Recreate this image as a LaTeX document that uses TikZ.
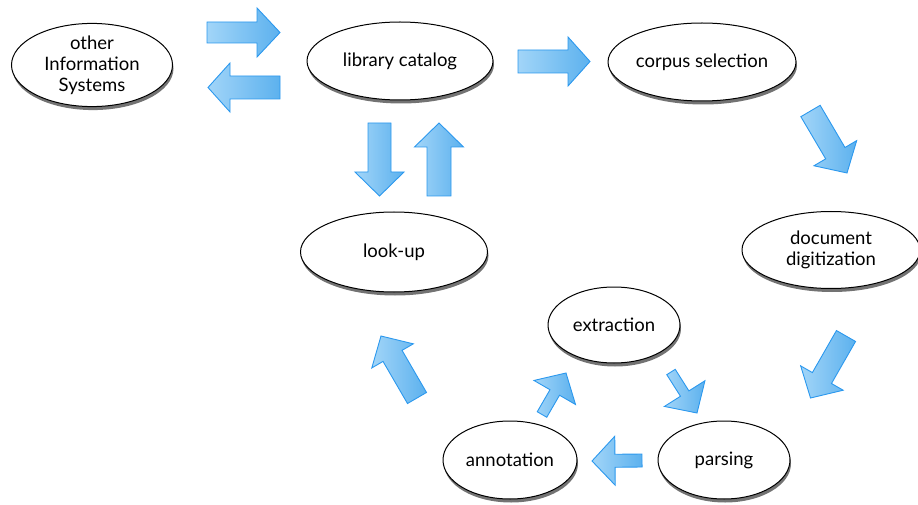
\documentclass[tikz,border=0pt]{standalone}
\usepackage{fontspec}
\setmainfont{Lato}
\usetikzlibrary{shapes.geometric,shadows,calc}
\definecolor{arrlight}{HTML}{A2D5F8}
\definecolor{arrdark}{HTML}{5CB1EE}
\definecolor{arredge}{HTML}{2B98EE}
\tikzset{
  oval/.style={ellipse,draw=black,line width=1pt,fill=white,inner sep=0pt,align=center,
    font=\fontsize{18.5}{21}\selectfont,
    drop shadow={shadow xshift=1pt,shadow yshift=-3.5pt,fill=black,opacity=0.55}},
  blockarrow/.style={draw=arredge,line width=0.9pt,left color=arrlight,right color=arrdark,line join=miter}
}
% #1 name, #2 tail, #3 tip, #4 shaft half width, #5 head half width, #6 head length
\newcommand{\blkarrow}[6]{%
  \coordinate (#1-t) at #2;
  \coordinate (#1-p) at #3;
  \coordinate (#1-b) at ($(#1-p)!#6!(#1-t)$);
  \path[blockarrow] ($(#1-t)!#4!90:(#1-p)$) -- ($(#1-b)!#4!90:(#1-p)$) -- ($(#1-b)!#5!90:(#1-p)$)
     -- (#1-p) -- ($(#1-b)!#5!-90:(#1-p)$) -- ($(#1-b)!#4!-90:(#1-p)$) -- ($(#1-t)!#4!-90:(#1-p)$) -- cycle;
}
\begin{document}
\begin{tikzpicture}[x=1pt,y=-1pt]
\useasboundingbox (0,0) rectangle (918,505);
\node[oval,minimum width=161,minimum height=70] (other) at (92,65) {other\\Information\\Systems};
\node[oval,minimum width=186,minimum height=78] (lib) at (400,61) {library catalog};
\node[oval,minimum width=188,minimum height=78] (corpus) at (702,62) {corpus selection};
\node[oval,minimum width=178,minimum height=77] (digit) at (831,250) {document\\digitization};
\node[oval,minimum width=187,minimum height=80] (lookup) at (394,252) {look-up};
\node[oval,minimum width=132,minimum height=76] (extr) at (614,325) {extraction};
\node[oval,minimum width=134,minimum height=78] (annot) at (510,460) {annotation};
\node[oval,minimum width=132,minimum height=78] (pars) at (724,460) {parsing};

\blkarrow{a1}{(207,32.5)}{(280,32.5)}{10.5pt}{24.5pt}{23pt}
\blkarrow{a2}{(280,87.5)}{(208,87.5)}{11.5pt}{24.5pt}{22pt}
\blkarrow{a3}{(518,61.5)}{(590,61.5)}{11.5pt}{24.5pt}{22pt}
\blkarrow{a4}{(379.5,123)}{(379.5,196)}{11.5pt}{24.5pt}{24pt}
\blkarrow{a5}{(439,196)}{(439,123)}{12pt}{24.5pt}{24pt}
\blkarrow{a6}{(810.5,111)}{(847,173)}{11.2pt}{24.8pt}{23pt}
\blkarrow{a7}{(846,336)}{(810.5,398)}{11pt}{24.5pt}{23pt}
\blkarrow{a8}{(671,372)}{(697,413)}{5pt}{24pt}{23pt}
\blkarrow{a9}{(642,460.5)}{(592,461)}{6.5pt}{24.5pt}{23pt}
\blkarrow{a10}{(542,414.5)}{(566,373)}{5.5pt}{24pt}{22.5pt}
\blkarrow{a11}{(417,398)}{(381,336)}{11pt}{24pt}{23pt}
\end{tikzpicture}
\end{document}
